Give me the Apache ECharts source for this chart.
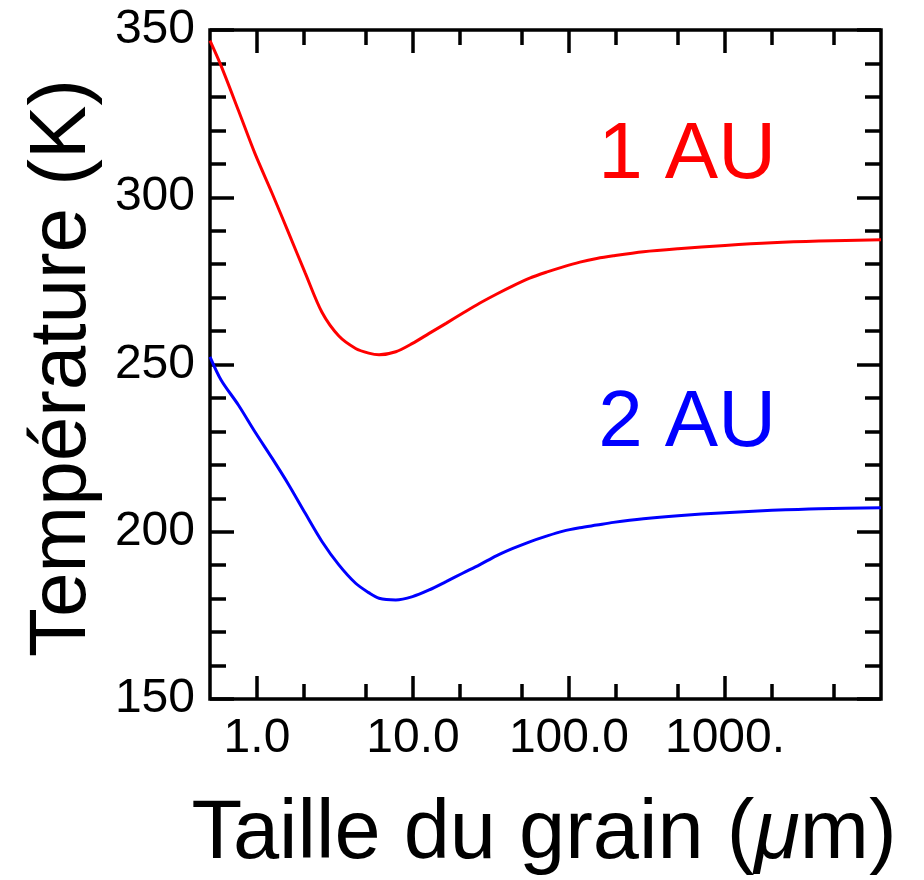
<!DOCTYPE html>
<html><head><meta charset="utf-8">
<script src="https://cdn.jsdelivr.net/npm/echarts@6/dist/echarts.min.js"></script>
<style>html,body{margin:0;padding:0;background:#fff}#c{width:924px;height:880px}</style>
</head><body><div id="c"></div>
<script>
// Grain size (micrometres) and temperatures (K)
const grainSize = [0.5, 0.59, 0.76, 0.97, 1.25, 1.6, 2.04, 2.61, 3.35, 4.29, 5.2, 6.06, 7.76, 9.93, 12.7, 16.3, 20.8, 26.7, 34.2, 43.7, 56, 71.7, 91.8, 117.5, 150.6, 192.6, 300, 500, 1000, 2000, 4000, 10000];
const temp1AU = [346.8, 339.2, 326, 313.1, 301.2, 289.2, 277.3, 265.6, 258.5, 254.8, 253.4, 252.9, 253.8, 256.3, 259.3, 262.3, 265.3, 268.3, 271.0, 273.5, 275.8, 277.6, 279.2, 280.6, 281.7, 282.5, 283.7, 284.6, 285.6, 286.4, 286.9, 287.3];
const temp2AU = [252.3, 245.3, 237.9, 229.9, 222, 214, 205.5, 197.1, 190.1, 184.6, 181.8, 180.1, 179.6, 180.6, 182.6, 185.1, 187.6, 190.1, 192.8, 195.0, 197.0, 198.7, 200.2, 201.2, 202.0, 202.8, 203.9, 204.8, 205.7, 206.4, 206.9, 207.2];

const xMin = 0.5, xMax = 10000;
const majorTickValues = [1, 10, 100, 1000];
const majorTickLabels = ['1.0', '10.0', '100.0', '1000.'];
const minorTickValues = [2, 5, 20, 50, 200, 500, 2000, 5000];
const yMin = 150, yMax = 350, yStep = 50;

const FONT = '"Liberation Sans", Arial, Helvetica, sans-serif';
const black = '#000';
const LW = 3.5;

const lg = v => Math.log10(v);
const majorLog = majorTickValues.map(lg);
const minorLog = minorTickValues.map(lg);

function tickAxis(pos, major, withLabels) {
  return {
    type: 'value', position: pos, min: lg(xMin), max: lg(xMax),
    axisLine: { show: false, onZero: false }, splitLine: { show: false },
    axisTick: { show: true, inside: true, length: major ? 23 : 15,
      lineStyle: { color: black, width: LW },
      customValues: major ? majorLog : minorLog },
    axisLabel: withLabels ? {
      show: true, customValues: majorLog, margin: 16,
      color: black, fontSize: 48, fontFamily: FONT,
      formatter: function (v) {
        const i = majorLog.findIndex(m => Math.abs(m - v) < 1e-6);
        return i >= 0 ? majorTickLabels[i] : '';
      }
    } : { show: false }
  };
}

function yAx(pos, labels) {
  return {
    type: 'value', position: pos, min: yMin, max: yMax, interval: yStep,
    axisLine: { show: false, onZero: false }, splitLine: { show: false },
    axisTick: { show: true, inside: true, length: 24, lineStyle: { color: black, width: LW } },
    minorTick: { show: true, splitNumber: 5, length: 16, lineStyle: { color: black, width: LW } },
    minorSplitLine: { show: false },
    axisLabel: labels ? { show: true, margin: 15, color: black, fontSize: 48, fontFamily: FONT } : { show: false }
  };
}

const chart = echarts.init(document.getElementById('c'), null, { renderer: 'canvas' });
chart.setOption({
  animation: false,
  backgroundColor: '#fff',
  grid: { left: 210, right: 43, top: 30, bottom: 181, show: true, borderColor: black, borderWidth: LW, backgroundColor: 'transparent' },
  xAxis: [
    { type: 'log', logBase: 10, min: xMin, max: xMax, position: 'bottom',
      axisLine: { show: false, onZero: false }, axisTick: { show: false }, axisLabel: { show: false }, splitLine: { show: false } },
    tickAxis('bottom', true, true),
    tickAxis('bottom', false, false),
    tickAxis('top', true, false),
    tickAxis('top', false, false)
  ],
  yAxis: [yAx('left', true), yAx('right', false)],
  series: [
    { name: '1 AU', type: 'line', xAxisIndex: 0, yAxisIndex: 0, showSymbol: false, smooth: 0.3,
      lineStyle: { color: '#ff0000', width: 3 }, itemStyle: { color: '#ff0000' },
      data: grainSize.map((s, i) => [s, temp1AU[i]]) },
    { name: '2 AU', type: 'line', xAxisIndex: 0, yAxisIndex: 0, showSymbol: false, smooth: 0.3,
      lineStyle: { color: '#0000ff', width: 3 }, itemStyle: { color: '#0000ff' },
      data: grainSize.map((s, i) => [s, temp2AU[i]]) }
  ],
  graphic: [
    { type: 'text', x: 63, y: 368, rotation: Math.PI / 2,
      style: { text: 'Température (K)', font: '80px ' + FONT, fill: black, align: 'center', verticalAlign: 'middle' } },
    { type: 'text', x: 544, y: 835,
      style: { text: '{n|Taille du grain (}{i|μ}{n|m)}', fill: black, align: 'center', verticalAlign: 'middle',
        rich: { n: { fontSize: 83, fontFamily: FONT, fill: black }, i: { fontSize: 83, fontFamily: FONT, fontStyle: 'italic', fill: black } } } },
    { type: 'text', x: 776, y: 156,
      style: { text: '1 AU', font: '80px ' + FONT, fill: '#ff0000', align: 'right', verticalAlign: 'middle' } },
    { type: 'text', x: 776, y: 424,
      style: { text: '2 AU', font: '80px ' + FONT, fill: '#0000ff', align: 'right', verticalAlign: 'middle' } }
  ]
});
</script>
</body></html>
